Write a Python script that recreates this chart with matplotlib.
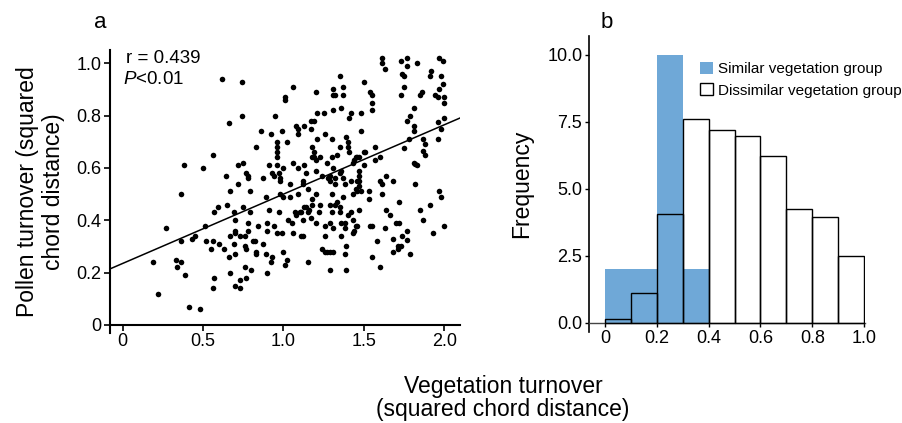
import numpy as np
import matplotlib
matplotlib.use("Agg")
import matplotlib.pyplot as plt
from matplotlib.patches import Patch

plt.rcParams['font.family'] = ['Liberation Sans', 'DejaVu Sans']
plt.rcParams['mathtext.fontset'] = 'custom'
plt.rcParams['mathtext.rm'] = 'Liberation Sans'
plt.rcParams['mathtext.it'] = 'Liberation Sans:italic'

# ---------------- Panel a data: vegetation vs pollen turnover ----------------
veg_turnover = [
    0.19, 0.22, 0.27, 0.33, 0.34, 0.36, 0.36, 0.36, 0.38, 0.39, 0.41, 0.43, 0.45, 0.48, 0.50,
    0.51, 0.52, 0.55, 0.56, 0.56, 0.56, 0.57, 0.57, 0.59, 0.60,
    0.62, 0.63, 0.64, 0.65, 0.66, 0.66, 0.67, 0.67, 0.67, 0.69,
    0.69, 0.70, 0.70, 0.70, 0.70, 0.70, 0.72, 0.73, 0.73, 0.72,
    0.73, 0.74, 0.74, 0.75, 0.75, 0.76, 0.77, 0.76, 0.76, 0.77,
    0.77, 0.78, 0.78, 0.78, 0.78, 0.79, 0.79, 0.80,
    0.81, 0.82, 0.83, 0.83, 0.83, 0.84, 0.86, 0.87, 0.87, 0.89,
    0.89, 0.90, 0.90, 0.90, 0.91, 0.91, 0.92, 0.92, 0.93, 0.94,
    0.93, 0.94, 0.96, 0.95, 0.96, 0.96, 0.96, 0.96, 0.97, 0.96,
    0.98, 0.98, 0.98, 0.99, 0.99, 1.00, 1.00, 1.01, 1.01, 1.00,
    1.01, 1.02, 1.02, 1.03, 1.04, 1.04, 1.05, 1.06, 1.06, 1.06,
    1.07, 1.08, 1.09, 1.09, 1.09, 1.09, 1.08, 0.97,
    1.10, 1.11, 1.11, 1.12, 1.12, 1.12, 1.12, 1.13, 1.13, 1.13,
    1.14, 1.14, 1.15, 1.15, 1.15, 1.16, 1.17, 1.17, 1.17, 1.19,
    1.18, 1.18, 1.18, 1.19, 1.18, 1.19, 1.20, 1.20, 1.20, 1.21,
    1.21, 1.20, 1.20, 1.23, 1.23, 1.22, 1.24, 1.25, 1.24, 1.26,
    1.26, 1.26, 1.26, 1.27, 1.28, 1.29, 1.27, 1.29, 1.29, 1.29,
    1.29, 1.29, 1.30, 1.30, 1.30, 1.31, 1.30, 1.31, 1.31, 1.31,
    1.32, 1.32, 1.31, 1.32, 1.33, 1.33, 1.31, 1.32, 1.35, 1.36,
    1.35, 1.35, 1.35, 1.36, 1.36, 1.36, 1.35, 1.37, 1.37, 1.37,
    1.37, 1.38, 1.38, 1.38, 1.38, 1.39, 1.39, 1.40, 1.40, 1.39,
    1.41, 1.41, 1.40, 1.42, 1.42, 1.42, 1.43, 1.43, 1.43, 1.44,
    1.43, 1.44, 1.45, 1.46, 1.45, 1.46, 1.46, 1.45, 1.46, 1.47,
    1.47, 1.47, 1.48, 1.48, 1.47, 1.47, 1.48, 1.47, 1.50, 1.50,
    1.50,
    1.51, 1.53, 1.53, 1.54, 1.55, 1.55, 1.55, 1.54, 1.55, 1.55,
    1.57, 1.57, 1.58, 1.60, 1.60, 1.61, 1.61, 1.61, 1.61, 1.63,
    1.60, 1.63, 1.64, 1.66, 1.64, 1.68, 1.68, 1.68, 1.70, 1.72,
    1.71, 1.73, 1.71, 1.72, 1.74, 1.73, 1.74, 1.75, 1.75, 1.73,
    1.75, 1.77, 1.77, 1.77, 1.77, 1.77, 1.78, 1.79, 1.79, 1.81,
    1.81, 1.81, 1.81, 1.82, 1.83, 1.82, 1.83, 1.85, 1.85, 1.86,
    1.87, 1.87, 1.88, 1.87, 1.88, 1.91, 1.91, 1.92, 1.93, 1.94,
    1.96, 1.96, 1.96, 1.97, 1.97, 1.97, 1.98, 1.98, 1.99, 1.98,
    1.99, 2.00, 2.00, 2.00, 2.00,
]
pollen_turnover = [
    0.24, 0.12, 0.37, 0.25, 0.22, 0.50, 0.32, 0.24, 0.61, 0.19, 0.07, 0.33, 0.34, 0.06, 0.60,
    0.38, 0.32, 0.29, 0.65, 0.14, 0.32, 0.43, 0.18, 0.45, 0.31,
    0.94, 0.29, 0.57, 0.46, 0.77, 0.26, 0.51, 0.20, 0.34, 0.31,
    0.43, 0.40, 0.36, 0.35, 0.15, 0.27, 0.54, 0.14, 0.17, 0.61,
    0.34, 0.93, 0.80, 0.62, 0.45, 0.30, 0.29, 0.22, 0.34, 0.18,
    0.58, 0.57, 0.56, 0.36, 0.39, 0.51, 0.43, 0.21,
    0.32, 0.32, 0.28, 0.27, 0.68, 0.38, 0.74, 0.31, 0.56, 0.27,
    0.49, 0.39, 0.36, 0.20, 0.44, 0.61, 0.24, 0.73, 0.26, 0.38,
    0.58, 0.57, 0.61, 0.80, 0.70, 0.68, 0.64, 0.66, 0.58, 0.35,
    0.56, 0.50, 0.55, 0.74, 0.35, 0.28, 0.49, 0.86, 0.87, 0.60,
    0.23, 0.25, 0.70, 0.40, 0.54, 0.49, 0.39, 0.91, 0.62, 0.35,
    0.43, 0.76, 0.73, 0.75, 0.60, 0.50, 0.42, 0.43,
    0.43, 0.43, 0.34, 0.34, 0.55, 0.54, 0.40, 0.61, 0.45, 0.76,
    0.45, 0.58, 0.52, 0.24, 0.43, 0.44, 0.78, 0.75, 0.41, 0.78,
    0.48, 0.46, 0.68, 0.66, 0.64, 0.64, 0.59, 0.50, 0.89, 0.81,
    0.71, 0.39, 0.63, 0.64, 0.46, 0.43, 0.57, 0.81, 0.29, 0.38,
    0.34, 0.28, 0.73, 0.62, 0.56, 0.46, 0.28, 0.28, 0.39, 0.55,
    0.57, 0.21, 0.71, 0.64, 0.43, 0.28, 0.50, 0.82, 0.90, 0.88,
    0.88, 0.46, 0.60, 0.56, 0.47, 0.65, 0.37, 0.54, 0.43, 0.39,
    0.68, 0.58, 0.95, 0.83, 0.59, 0.34, 0.45, 0.91, 0.88, 0.56,
    0.49, 0.54, 0.39, 0.37, 0.27, 0.21, 0.72, 0.70, 0.68, 0.30,
    0.79, 0.66, 0.42, 0.81, 0.43, 0.55, 0.62, 0.50, 0.40, 0.36,
    0.35, 0.63, 0.64, 0.64, 0.52, 0.51, 0.55, 0.38, 0.38, 0.57,
    0.59, 0.53, 0.74, 0.81, 0.64, 0.44, 0.51, 0.55, 0.61, 0.66,
    0.93,
    0.66, 0.51, 0.48, 0.89, 0.88, 0.85, 0.82, 0.38, 0.38, 0.26,
    0.68, 0.63, 0.32, 0.64, 0.55, 0.54, 0.50, 1.02, 1.00, 0.98,
    0.22, 0.37, 0.44, 0.42, 0.57, 0.33, 0.28, 0.55, 0.39, 0.39,
    0.30, 0.30, 0.29, 0.47, 0.34, 1.01, 0.96, 0.95, 0.91, 0.88,
    0.675, 0.99, 1.02, 0.78, 0.36, 0.325, 0.71, 0.27, 0.80, 0.76,
    0.74, 0.83, 0.62, 0.615, 0.61, 0.54, 1.00, 0.44, 0.88, 0.89,
    0.40, 0.71, 0.69, 0.665, 0.65, 0.46, 0.95, 0.97, 0.35, 0.88,
    0.71, 0.87, 0.775, 1.02, 0.90, 0.51, 0.49, 0.95, 0.92, 0.75,
    1.01, 0.87, 0.85, 0.79, 0.38,
]
fit_intercept = 0.235
fit_slope = 0.265
r_text = "r = 0.439"
p_text = r"$\it{P}$<0.01"

# ---------------- Panel b data: histogram frequencies ----------------
bin_left = [0.0, 0.1, 0.2, 0.3, 0.4, 0.5, 0.6, 0.7, 0.8, 0.9]
bin_width = 0.1
similar_freq = [2.0, 2.0, 10.0, 2.0, 0, 0, 0, 0, 0, 0]
dissimilar_freq = [0.12, 1.1, 4.06, 7.6, 7.2, 6.95, 6.23, 4.25, 3.95, 2.5]
legend_labels = ["Similar vegetation group", "Dissimilar vegetation group"]

blue = "#6fa8d7"

W, H = 903, 423
fig = plt.figure(figsize=(W / 100, H / 100), dpi=100)

def fx(px):
    return px / W

def fy(py):
    return (H - py) / H

# ---------------- Panel a ----------------
ax1 = fig.add_axes([fx(110), fy(333), fx(460) - fx(110), fy(50) - fy(333)])
ax1.scatter(veg_turnover, pollen_turnover, s=16, color="black", linewidths=0, zorder=3)
xl = np.array([-0.079, 2.098])
ax1.plot(xl, fit_intercept + fit_slope * xl, color="black", lw=1.1, zorder=2)
ax1.set_xlim(-0.079, 2.098)
ax1.set_ylim(-0.031, 1.051)
ax1.spines['top'].set_visible(False)
ax1.spines['right'].set_visible(False)
ax1.spines['bottom'].set_position(('data', 0))
for s in ('left', 'bottom'):
    ax1.spines[s].set_linewidth(1.5)
ax1.set_xticks([0, 0.5, 1.0, 1.5, 2.0])
ax1.set_xticklabels(["0", "0.5", "1.0", "1.5", "2.0"])
ax1.set_yticks([0, 0.2, 0.4, 0.6, 0.8, 1.0])
ax1.set_yticklabels(["0", "0.2", "0.4", "0.6", "0.8", "1.0"])
ax1.tick_params(axis='both', labelsize=13, length=4, width=1.2, direction='out', pad=2, colors='black')
ax1.set_ylabel("Pollen turnover (squared\nchord distance)", fontsize=16.5, linespacing=1.2, labelpad=8)
ax1.text(0.02, 1.02, r_text, fontsize=13.5, va='center', ha='left')
ax1.text(0.00, 0.937, p_text, fontsize=13.5, va='center', ha='left')
fig.text(fx(100), fy(23), "a", fontsize=16, ha='center', va='center')

# ---------------- Panel b ----------------
ax2 = fig.add_axes([fx(589.3), fy(332), fx(865.5) - fx(589.3), fy(36) - fy(332)])
ax2.bar(bin_left, dissimilar_freq, width=bin_width, align='edge', color='white',
        edgecolor='none', zorder=1)
ax2.bar(bin_left, similar_freq, width=bin_width, align='edge', color=blue,
        edgecolor='none', zorder=2)
ax2.bar(bin_left, dissimilar_freq, width=bin_width, align='edge', fill=False,
        edgecolor='black', linewidth=1.0, zorder=3)
ax2.set_xlim(-0.06, 1.005)
ax2.set_ylim(-0.35, 10.7)
ax2.spines['top'].set_visible(False)
ax2.spines['right'].set_visible(False)
ax2.spines['bottom'].set_position(('data', 0))
ax2.spines['left'].set_linewidth(1.2)
ax2.spines['bottom'].set_linewidth(1.0)
ax2.spines['bottom'].set_color('#444444')
ax2.set_xticks([0, 0.2, 0.4, 0.6, 0.8, 1.0])
ax2.set_xticklabels(["0", "0.2", "0.4", "0.6", "0.8", "1.0"])
ax2.set_yticks([0, 2.5, 5.0, 7.5, 10.0])
ax2.set_yticklabels(["0.0", "2.5", "5.0", "7.5", "10.0"])
ax2.tick_params(axis='both', labelsize=13, length=3, width=1.0, direction='out', pad=2, colors='black')
ax2.set_ylabel("Frequency", fontsize=16.5, labelpad=10)
handles = [Patch(facecolor=blue, edgecolor='none'),
           Patch(facecolor='white', edgecolor='black', linewidth=1.0)]
ax2.legend(handles, legend_labels, loc='upper left', bbox_to_anchor=(fx(700), fy(62)),
           bbox_transform=fig.transFigure, frameon=False, fontsize=11,
           handlelength=0.85, handleheight=0.85, handletextpad=0.3,
           labelspacing=0.45, borderpad=0, borderaxespad=0)
fig.text(fx(607), fy(22), "b", fontsize=16, ha='center', va='center')

# shared x label
fig.text(fx(503), fy(398), "Vegetation turnover\n(squared chord distance)", fontsize=16.5,
         ha='center', va='center', linespacing=1.05)

fig.savefig("out.png", dpi=100)
